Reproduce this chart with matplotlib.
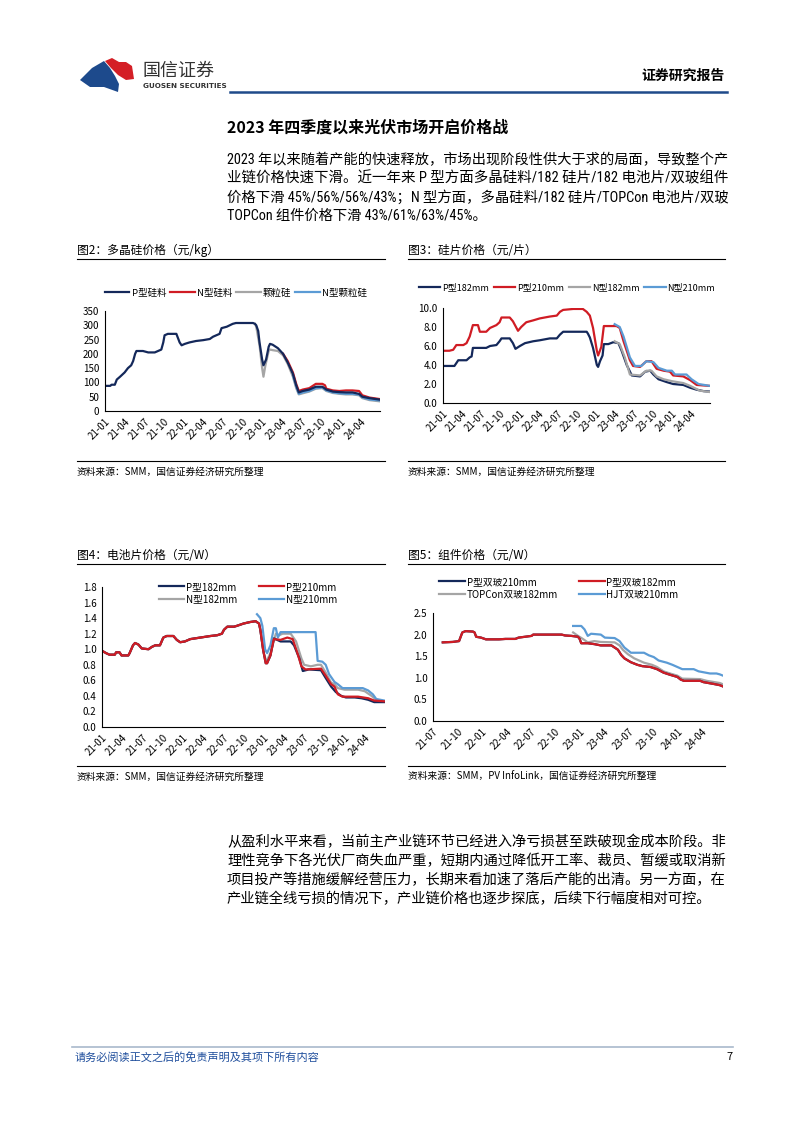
import matplotlib
matplotlib.use("Agg")
import matplotlib.pyplot as plt
from matplotlib.lines import Line2D
from matplotlib.patches import Polygon
from matplotlib import font_manager

plt.rcParams['font.family'] = ['Noto Sans CJK SC', 'DejaVu Sans']

# x values are months since 2021-01
quarter_labels = ["21-01", "21-04", "21-07", "21-10", "22-01", "22-04", "22-07",
                  "22-10", "23-01", "23-04", "23-07", "23-10", "24-01", "24-04"]

# fig2: polysilicon (元/kg)
si_p = [(0, 88), (0.8, 88), (1, 92), (1.5, 92), (1.8, 110), (2.3, 120), (3, 135), (3.5, 150),
        (4, 160), (4.3, 175), (4.6, 200), (4.8, 210), (5.8, 210), (6.6, 205), (7.6, 205),
        (8.1, 210), (8.6, 215), (8.9, 240), (9.1, 265), (9.6, 270), (10.9, 270), (11.4, 240),
        (11.7, 230), (12.2, 235), (12.9, 240), (13.9, 245), (15, 248), (16, 252), (16.5, 260),
        (17, 265), (17.5, 270), (17.8, 290), (18.6, 295), (19.5, 305), (20, 308), (22.6, 308),
        (22.9, 305), (23.1, 300), (23.4, 280), (23.6, 240), (24, 180), (24.2, 160), (24.6, 180),
        (25, 225), (25.2, 235), (25.6, 232), (26.4, 220), (27.2, 200), (27.9, 170), (28.7, 130),
        (29.2, 90), (29.6, 65), (30.2, 70), (31.2, 75), (32.2, 85), (33.2, 85), (33.8, 75),
        (34.8, 68), (35.8, 66), (36.8, 65), (37.8, 65), (38.8, 60), (39.3, 50), (40.4, 45),
        (41.9, 40)]
si_n = [(27.2, 200), (27.9, 175), (28.7, 135), (29.2, 95), (29.6, 70), (30.2, 75), (31.2, 80),
        (32.2, 95), (33.2, 95), (33.6, 90), (33.8, 78), (34.8, 72), (35.8, 70), (36.8, 72),
        (37.8, 72), (38.8, 70), (39.3, 55), (40.4, 47), (41.9, 42)]
si_gran = [(22.9, 305), (23.1, 295), (23.6, 230), (24, 150), (24.2, 120), (24.5, 160),
           (25, 210), (25.2, 215), (25.6, 213), (26.4, 210), (27.2, 195), (27.9, 165),
           (28.7, 120), (29.2, 80), (29.6, 58), (30.2, 62), (31.2, 68), (32.2, 78), (33.2, 80),
           (33.8, 70), (34.8, 63), (35.8, 60), (36.8, 58), (37.8, 58), (38.8, 55), (39.3, 45),
           (40.4, 38), (41.9, 34)]
si_gran_n = [(28.7, 125), (29.2, 85), (29.6, 60), (30.2, 65), (31.2, 70), (32.2, 80), (33.2, 82),
             (33.8, 72), (34.8, 65), (35.8, 62), (36.8, 60), (37.8, 60), (38.8, 57), (39.3, 48),
             (40.4, 40), (41.9, 37)]

# fig3: wafers (元/片)
wf_p182 = [(0, 3.9), (1.8, 3.9), (2.4, 4.5), (3.7, 4.5), (4.2, 4.8), (4.5, 4.9), (4.7, 5.8),
           (6.8, 5.8), (7.4, 6.0), (8.4, 6.1), (8.9, 6.5), (9.2, 6.8), (10.5, 6.8), (11.0, 6.3),
           (11.4, 5.7), (12.1, 6.0), (12.9, 6.3), (14.2, 6.5), (15.2, 6.6), (16.8, 6.8),
           (17.9, 6.8), (18.4, 7.2), (18.9, 7.5), (22.6, 7.5), (22.8, 7.3), (23.1, 6.9),
           (23.6, 5.8), (24.2, 4.0), (24.4, 3.8), (24.7, 4.4), (25.1, 5.0), (25.3, 6.2),
           (26.0, 6.2), (26.8, 6.4), (27.6, 6.3), (28.1, 5.5), (28.9, 4.0), (29.7, 2.9),
           (31.0, 2.8), (31.8, 3.3), (32.6, 3.4), (33.1, 3.0), (33.9, 2.5), (35.2, 2.2),
           (36.2, 2.0), (37.8, 1.9), (38.9, 1.6), (39.9, 1.4), (41.0, 1.25), (42, 1.2)]
wf_p210 = [(0, 5.5), (1.0, 5.5), (1.6, 5.6), (2.1, 6.1), (3.2, 6.1), (3.7, 6.3), (4.2, 7.0),
           (4.7, 8.2), (5.5, 8.2), (5.8, 7.5), (6.8, 7.5), (7.4, 7.9), (8.4, 8.2), (8.9, 8.5),
           (9.2, 9.0), (10.5, 9.0), (11.0, 8.6), (11.8, 7.6), (12.3, 8.0), (13.1, 8.5),
           (14.2, 8.7), (15.2, 8.9), (16.8, 9.1), (17.9, 9.2), (18.4, 9.6), (18.9, 9.8),
           (20.5, 9.9), (22.0, 9.9), (22.6, 9.6), (23.1, 9.2), (23.6, 7.9), (24.2, 5.5),
           (24.4, 5.0), (24.9, 5.9), (25.3, 8.1), (27.3, 8.1), (27.8, 7.9), (28.4, 6.5),
           (29.4, 4.5), (29.9, 3.9), (31.0, 3.8), (32.0, 4.4), (32.8, 4.4), (33.6, 3.6),
           (34.7, 3.4), (35.7, 3.3), (36.2, 2.9), (37.8, 2.8), (38.9, 2.4), (39.9, 1.9), (42, 1.8)]
wf_n182 = [(27.0, 6.5), (27.8, 6.2), (28.6, 4.8), (29.4, 3.0), (31.0, 2.9), (32.0, 3.4),
           (32.8, 3.4), (33.6, 2.8), (34.7, 2.5), (36.0, 2.3), (37.8, 2.1), (38.9, 1.8),
           (40.4, 1.3), (42, 1.15)]
wf_n210 = [(27.0, 8.3), (27.8, 8.0), (28.4, 7.0), (29.4, 4.8), (30.2, 3.9), (31.2, 3.9),
           (32.0, 4.4), (33.1, 4.3), (33.9, 3.7), (35.2, 3.4), (36.0, 3.4), (36.5, 3.0),
           (38.3, 3.0), (39.1, 2.5), (40.2, 2.0), (42, 1.8)]

# fig4: cells (元/W)
cell_early = [(0, 0.98), (0.6, 0.95), (1.1, 0.93), (1.9, 0.93), (2.1, 0.96), (2.6, 0.96),
              (2.9, 0.92), (3.9, 0.92), (4.1, 0.95), (4.6, 1.05), (4.9, 1.08), (5.4, 1.06),
              (5.9, 1.01), (6.9, 1.00), (7.4, 1.03), (7.9, 1.05), (8.6, 1.05), (9.1, 1.15),
              (9.6, 1.17), (10.6, 1.17), (11.1, 1.12), (11.6, 1.09), (12.3, 1.10), (13.1, 1.13),
              (14.6, 1.15), (16.1, 1.17), (17.1, 1.18), (17.8, 1.20), (18.1, 1.25), (18.6, 1.29),
              (19.6, 1.29), (20.0, 1.30), (21.0, 1.33), (22.0, 1.35), (22.8, 1.36), (23.3, 1.33),
              (23.5, 1.25)]
cell_p182_late = [(23.9, 1.0), (24.3, 0.82), (24.5, 0.82), (25.0, 0.92), (25.3, 1.05), (25.5, 1.14),
                  (26.0, 1.12), (26.5, 1.10), (28.0, 1.10), (28.5, 1.05), (29.3, 0.88), (29.8, 0.72),
                  (30.7, 0.74), (32.5, 0.73), (33.2, 0.63), (34.0, 0.52), (34.7, 0.45), (35.5, 0.40),
                  (36.2, 0.38), (37.5, 0.38), (38.5, 0.37), (39.5, 0.35), (40.4, 0.32), (41.9, 0.32)]
cell_p210_late = [(23.9, 1.0), (24.3, 0.82), (24.5, 0.82), (25.0, 0.92), (25.5, 1.13), (26.5, 1.12),
                  (27.5, 1.15), (28.3, 1.13), (29.0, 0.95), (29.6, 0.78), (30.2, 0.74), (32.5, 0.75),
                  (33.2, 0.66), (34.0, 0.55), (34.5, 0.52), (35.0, 0.42), (35.7, 0.39), (38.0, 0.39),
                  (39.5, 0.37), (40.4, 0.34), (41.9, 0.33)]
cell_n182_late = [(24.0, 0.95), (24.4, 0.84), (25.0, 0.95), (25.8, 1.20), (26.3, 1.18), (26.8, 1.20),
                  (28.0, 1.20), (28.8, 1.10), (29.6, 0.88), (30.0, 0.80), (31.0, 0.78), (32.0, 0.80),
                  (32.5, 0.80), (33.2, 0.70), (34.0, 0.57), (34.5, 0.55), (35.0, 0.50), (36.0, 0.48),
                  (38.0, 0.48), (39.0, 0.46), (40.0, 0.40), (40.7, 0.35), (41.9, 0.33)]
cell_n210 = [(23.0, 1.45), (23.5, 1.40), (23.8, 1.30), (24.2, 1.0), (24.5, 0.95), (25.0, 1.05),
             (25.5, 1.27), (25.8, 1.27), (26.1, 1.15), (26.5, 1.22), (31.7, 1.22), (32.0, 0.85),
             (32.7, 0.84), (33.2, 0.80), (33.7, 0.68), (34.5, 0.58), (35.0, 0.55), (35.7, 0.50),
             (38.7, 0.50), (39.5, 0.47), (40.2, 0.42), (40.7, 0.36), (41.9, 0.34)]

# fig5: modules (元/W)
mod_p = [(7.2, 1.82), (8.4, 1.83), (9.2, 1.85), (9.6, 2.05), (10.0, 2.08), (10.9, 2.07),
         (11.1, 2.05), (11.3, 1.95), (11.9, 1.93), (12.5, 1.89), (14.1, 1.89), (14.9, 1.90),
         (16.1, 1.90), (16.5, 1.93), (17.3, 1.95), (18.1, 1.97), (18.3, 2.0), (21.8, 2.0),
         (22.2, 1.98), (23.0, 1.97), (23.8, 1.95), (24.0, 1.90), (24.2, 1.80), (25.0, 1.80),
         (25.8, 1.78), (26.6, 1.75), (27.9, 1.75), (28.7, 1.65), (29.1, 1.53), (29.5, 1.45),
         (30.3, 1.36), (31.1, 1.30), (31.7, 1.27), (32.7, 1.25), (33.5, 1.20), (34.3, 1.12),
         (35.1, 1.07), (36.0, 1.02), (36.4, 0.96), (36.8, 0.93), (38.8, 0.93), (39.2, 0.90),
         (40.4, 0.86), (41.2, 0.83), (41.6, 0.80)]
mod_topcon = [(23.2, 2.05), (23.8, 1.97), (24.4, 1.90), (25.0, 1.82), (25.8, 1.85), (26.6, 1.83),
              (28.3, 1.82), (28.9, 1.75), (29.3, 1.65), (29.9, 1.55), (30.7, 1.45), (31.9, 1.35),
              (32.9, 1.30), (33.5, 1.25), (34.3, 1.15), (35.1, 1.10), (36.0, 1.05), (36.6, 0.98),
              (38.8, 0.97), (39.6, 0.93), (41.2, 0.88), (41.6, 0.85)]
mod_hjt = [(23.2, 2.2), (24.2, 2.2), (24.6, 2.12), (25.0, 1.97), (25.4, 2.02), (26.6, 2.0),
           (27.1, 1.93), (28.3, 1.92), (28.9, 1.85), (29.5, 1.70), (30.3, 1.58), (31.9, 1.58),
           (32.5, 1.52), (33.1, 1.48), (33.7, 1.40), (34.7, 1.35), (35.4, 1.30), (36.0, 1.25),
           (36.6, 1.20), (38.0, 1.20), (38.6, 1.15), (40.0, 1.10), (40.8, 1.10), (41.2, 1.08),
           (41.6, 1.05)]

para1 = ["2023 年以来随着产能的快速释放，市场出现阶段性供大于求的局面，导致整个产",
         "业链价格快速下滑。近一年来 P 型方面多晶硅料/182 硅片/182 电池片/双玻组件",
         "价格下滑 45%/56%/56%/43%；N 型方面，多晶硅料/182 硅片/TOPCon 电池片/双玻",
         "TOPCon 组件价格下滑 43%/61%/63%/45%。"]
para2 = ["从盈利水平来看，当前主产业链环节已经进入净亏损甚至跌破现金成本阶段。非",
         "理性竞争下各光伏厂商失血严重，短期内通过降低开工率、裁员、暂缓或取消新",
         "项目投产等措施缓解经营压力，长期来看加速了落后产能的出清。另一方面，在",
         "产业链全线亏损的情况下，产业链价格也逐步探底，后续下行幅度相对可控。"]

NAVY = "#14285a"
RED = "#d01c24"
GRAY = "#a5a5a5"
BLUE = "#5b9bd5"

installed = {f.name for f in font_manager.fontManager.ttflist}
narrow = [n for n in ["Liberation Sans Narrow", "Roboto Condensed"] if n in installed]
body_family = narrow + ['Noto Sans CJK SC', 'DejaVu Sans']

W, H = 802, 1133
fig = plt.figure(figsize=(W / 100, H / 100), dpi=100)
renderer = fig.canvas.get_renderer()


def fx(px):
    return px / W


def fy(py):
    return 1 - py / H


def hline(x0, x1, y, color="black", lw=0.8):
    fig.add_artist(Line2D([fx(x0), fx(x1)], [fy(y), fy(y)], color=color, lw=lw))


def txt(x, y, s, **kw):
    kw.setdefault("va", "center")
    return fig.text(fx(x), fy(y), s, **kw)


def body(x, y, lines, step, full_width, size):
    for i, line in enumerate(lines):
        t = txt(x, y + i * step, line, fontsize=size, family=body_family)
        if i < len(lines) - 1:
            w = t.get_window_extent(renderer).width
            t.set_fontsize(size * min(1.08, full_width / w))


def make_axes(l, t, r, b):
    ax = fig.add_axes([fx(l), fy(b), (r - l) / W, (b - t) / H])
    for side in ["top", "right"]:
        ax.spines[side].set_visible(False)
    for side in ["left", "bottom"]:
        ax.spines[side].set_linewidth(0.8)
    ax.tick_params(length=0, labelsize=7, pad=4)
    return ax


def draw(ax, pts, color, label, lw=1.6):
    xs, ys = zip(*pts)
    return ax.plot(xs, ys, color=color, lw=lw, label=label)[0]


def set_xticks(ax, first, lo, hi):
    ticks = list(range(first, 40, 3))
    labels = quarter_labels[first // 3:first // 3 + len(ticks)]
    ax.set_xticks(ticks)
    ax.set_xticklabels(labels, rotation=45, ha="right", rotation_mode="anchor")
    ax.set_xlim(lo, hi)


# header
logo_blue = [(80, 80), (92, 68), (104, 61), (110, 68), (115, 76), (119, 84), (118, 92), (104, 87), (90, 87)]
logo_red = [(105, 61), (112, 58), (119, 62), (126, 62), (132, 66), (134, 79), (126, 80), (118, 75), (111, 68)]
fig.add_artist(Polygon([(fx(a), fy(b)) for a, b in logo_blue], closed=True,
                       transform=fig.transFigure, color="#1d4a8c", lw=0))
fig.add_artist(Polygon([(fx(a), fy(b)) for a, b in logo_red], closed=True,
                       transform=fig.transFigure, color="#d41f26", lw=0))
txt(143, 71, "国信证券", fontsize=13, color="#333333")
txt(143, 86, "GUOSEN SECURITIES", fontsize=5.2, color="#333333", fontweight="bold",
    family=["DejaVu Sans"])
txt(725, 76, "证券研究报告", fontsize=10, fontweight="bold", ha="right")
hline(230, 727, 92, color="#1f4a8a", lw=1.8)

# section title and paragraphs
txt(227, 128, "2023 年四季度以来光伏市场开启价格战", fontsize=11.5, fontweight="bold")
body(227, 160, para1, 18.5, 498, 10.3)
body(227, 842, para2, 19, 498, 10.3)

# figure captions and rules
for x0, x1, y0, title, src in [
        (77, 385, 250, "图2：多晶硅价格（元/kg）", "资料来源：SMM，国信证券经济研究所整理"),
        (408, 725, 250, "图3：硅片价格（元/片）", "资料来源：SMM，国信证券经济研究所整理"),
        (77, 385, 555, "图4：电池片价格（元/W）", "资料来源：SMM，国信证券经济研究所整理"),
        (408, 725, 555, "图5：组件价格（元/W）", "资料来源：SMM，PV InfoLink，国信证券经济研究所整理")]:
    txt(x0, y0, title, fontsize=8.5)
    hline(x0, x1, y0 + 9)
    hline(x0, x1, y0 + 211)
    txt(x0, y0 + 222, src, fontsize=7)

# fig2
ax1 = make_axes(105, 311, 380, 411)
h_gran = draw(ax1, si_gran, GRAY, "颗粒硅")
h_gran_n = draw(ax1, si_gran_n, BLUE, "N型颗粒硅")
h_n = draw(ax1, si_n, RED, "N型硅料")
h_p = draw(ax1, si_p, NAVY, "P型硅料")
ax1.set_ylim(0, 350)
ax1.set_yticks(range(0, 351, 50))
set_xticks(ax1, 0, 0, 42)
ax1.legend([h_p, h_n, h_gran, h_gran_n], ["P型硅料", "N型硅料", "颗粒硅", "N型颗粒硅"],
           loc="center", bbox_to_anchor=(fx(236), fy(293)), bbox_transform=fig.transFigure,
           ncol=4, frameon=False, fontsize=6.8, handlelength=2.6, handletextpad=0.25,
           columnspacing=0.4)

# fig3
ax2 = make_axes(443, 308, 710, 403)
h1 = draw(ax2, wf_p182, NAVY, "P型182mm")
h2 = draw(ax2, wf_p210, RED, "P型210mm")
h3 = draw(ax2, wf_n182, GRAY, "N型182mm")
h4 = draw(ax2, wf_n210, BLUE, "N型210mm")
ax2.set_ylim(0, 10)
ax2.set_yticks(range(0, 11, 2))
ax2.set_yticklabels([f"{v:.1f}" for v in range(0, 11, 2)])
set_xticks(ax2, 0, 0, 42)
ax2.legend([h1, h2, h3, h4], ["P型182mm", "P型210mm", "N型182mm", "N型210mm"],
           loc="center", bbox_to_anchor=(fx(567), fy(288)), bbox_transform=fig.transFigure,
           ncol=4, frameon=False, fontsize=6.5, handlelength=2.4, handletextpad=0.2,
           columnspacing=0.5)

# fig4
ax3 = make_axes(102, 587, 385, 727)
c3 = draw(ax3, cell_early + cell_n182_late, GRAY, "N型182mm")
c1 = draw(ax3, cell_early + cell_p182_late, NAVY, "P型182mm")
c4 = draw(ax3, cell_n210, BLUE, "N型210mm")
c2 = draw(ax3, cell_early + cell_p210_late, RED, "P型210mm")
ax3.set_ylim(0, 1.8)
ax3.set_yticks([i * 0.2 for i in range(10)])
ax3.set_yticklabels([f"{i * 0.2:.1f}" for i in range(10)])
set_xticks(ax3, 0, 0, 42)
ax3.legend([c1, c3, c2, c4], ["P型182mm", "N型182mm", "P型210mm", "N型210mm"],
           loc="center", bbox_to_anchor=(fx(248), fy(593)), bbox_transform=fig.transFigure,
           ncol=2, frameon=False, fontsize=7, handlelength=2.6, handletextpad=0.2,
           columnspacing=2.2, labelspacing=0.25)

# fig5
ax4 = make_axes(433, 613, 723, 721)
m3 = draw(ax4, mod_topcon, GRAY, "TOPCon双玻182mm")
m4 = draw(ax4, mod_hjt, BLUE, "HJT双玻210mm")
m1 = draw(ax4, mod_p, NAVY, "P型双玻210mm")
m2 = draw(ax4, mod_p, RED, "P型双玻182mm")
ax4.set_ylim(0, 2.5)
ax4.set_yticks([i * 0.5 for i in range(6)])
ax4.set_yticklabels([f"{i * 0.5:.1f}" for i in range(6)])
set_xticks(ax4, 6, 6, 41.6)
ax4.legend([m1, m3, m2, m4], ["P型双玻210mm", "TOPCon双玻182mm", "P型双玻182mm", "HJT双玻210mm"],
           loc="center", bbox_to_anchor=(fx(559), fy(588)), bbox_transform=fig.transFigure,
           ncol=2, frameon=False, fontsize=7, handlelength=2.6, handletextpad=0.2,
           columnspacing=2.2, labelspacing=0.25)

# footer
hline(72, 733, 1047, color="#a9b9cc", lw=1.2)
txt(75, 1057, "请务必阅读正文之后的免责声明及其项下所有内容", fontsize=8, color="#1f4e9c")
txt(733, 1057, "7", fontsize=8, ha="right")

fig.savefig("out.png", dpi=100)
